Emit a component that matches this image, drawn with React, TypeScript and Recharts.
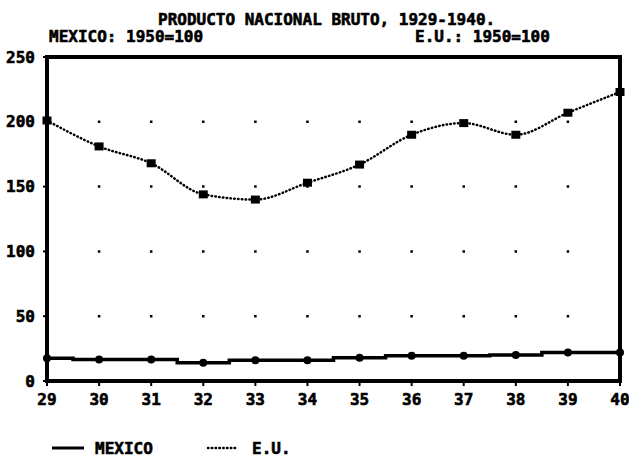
import React from 'react';
import {
  LineChart,
  Line,
  XAxis,
  YAxis,
  CartesianGrid,
  ReferenceArea,
} from 'recharts';

const years = [29, 30, 31, 32, 33, 34, 35, 36, 37, 38, 39, 40];
const mexico = [17.5, 16.5, 16.5, 14, 16, 16, 18, 19.5, 19.5, 20, 22, 22];
const eu = [201, 181, 168, 144, 140, 153, 167, 190, 199, 190, 207, 223];
const yTicks = [0, 50, 100, 150, 200, 250];

const titleText = 'PRODUCTO NACIONAL BRUTO, 1929-1940.';
const subLeft = 'MEXICO: 1950=100';
const subRight = 'E.U.: 1950=100';
const legendMexico = 'MEXICO';
const legendEU = 'E.U.';

const data = years.map((y, i) => ({ year: y, mexico: mexico[i], eu: eu[i] }));

const FONT = "'DejaVu Sans Mono', monospace";

const SquareDot = (props: any) => {
  const { cx, cy } = props;
  if (cx == null || cy == null) return null;
  return <rect x={cx - 4.5} y={cy - 4} width={9} height={8} fill="#000" />;
};

const RoundDot = (props: any) => {
  const { cx, cy } = props;
  if (cx == null || cy == null) return null;
  return <circle cx={cx} cy={cy} r={4} fill="#000" />;
};

const EmptyTick = () => <g />;

const tickStyle = {
  fill: '#000',
  stroke: '#000',
  strokeWidth: 0.6,
  fontFamily: FONT,
  fontWeight: 'bold',
  fontSize: 16,
};

export default function App() {
  const period = 573 / 11;
  return (
    <div style={{ position: 'absolute', left: 0, top: 0, width: 629, height: 473, background: '#fff' }}>
      <LineChart
        width={629}
        height={473}
        data={data}
        margin={{ top: 57, right: 9, bottom: 52, left: 0 }}
      >
        <CartesianGrid
          vertical={false}
          stroke="#000"
          strokeWidth={2.5}
          strokeDasharray={`1.25 ${period - 2.5} 1.25 0`}
        />
        <XAxis
          dataKey="year"
          type="number"
          domain={[29, 40]}
          ticks={years}
          axisLine={false}
          tickLine={{ stroke: '#000', strokeWidth: 2 }}
          tickSize={5}
          tickMargin={8}
          height={40}
          tick={tickStyle}
          interval={0}
        />
        <XAxis
          xAxisId="top"
          dataKey="year"
          type="number"
          domain={[29, 40]}
          ticks={years}
          orientation="top"
          mirror
          axisLine={false}
          tickLine={{ stroke: '#000', strokeWidth: 2 }}
          tickSize={4}
          height={0}
          tick={<EmptyTick />}
          interval={0}
        />
        <YAxis
          domain={[0, 250]}
          ticks={yTicks}
          axisLine={false}
          tickLine={{ stroke: '#000', strokeWidth: 2 }}
          tickSize={4}
          tickMargin={8}
          width={47}
          tick={tickStyle}
          interval={0}
        />
        <ReferenceArea
          x1={29}
          x2={40}
          y1={0}
          y2={250}
          fill="none"
          fillOpacity={0}
          stroke="#000"
          strokeWidth={4}
          ifOverflow="visible"
        />
        <Line
          dataKey="mexico"
          type="step"
          stroke="#000"
          strokeWidth={3.5}
          dot={<RoundDot />}
          activeDot={false}
          isAnimationActive={false}
        />
        <Line
          dataKey="eu"
          type="monotone"
          stroke="#000"
          strokeWidth={2.5}
          strokeDasharray="0.5 3.3"
          strokeLinecap="round"
          dot={<SquareDot />}
          activeDot={false}
          isAnimationActive={false}
        />
      </LineChart>
      <svg
        width={629}
        height={473}
        style={{ position: 'absolute', left: 0, top: 0, pointerEvents: 'none' }}
      >
        <g fontFamily={FONT} fontWeight="bold" fontSize={16} fill="#000" stroke="#000" strokeWidth={0.6}>
          <text x={158} y={25}>{titleText}</text>
          <text x={49} y={42}>{subLeft}</text>
          <text x={415} y={42}>{subRight}</text>
          <text x={95} y={454}>{legendMexico}</text>
          <text x={252} y={454}>{legendEU}</text>
        </g>
        <line x1={52} y1={448} x2={84} y2={448} stroke="#000" strokeWidth={3} />
        <line
          x1={208}
          y1={448}
          x2={238}
          y2={448}
          stroke="#000"
          strokeWidth={2.5}
          strokeDasharray="0.5 3.3"
          strokeLinecap="round"
        />
      </svg>
    </div>
  );
}
